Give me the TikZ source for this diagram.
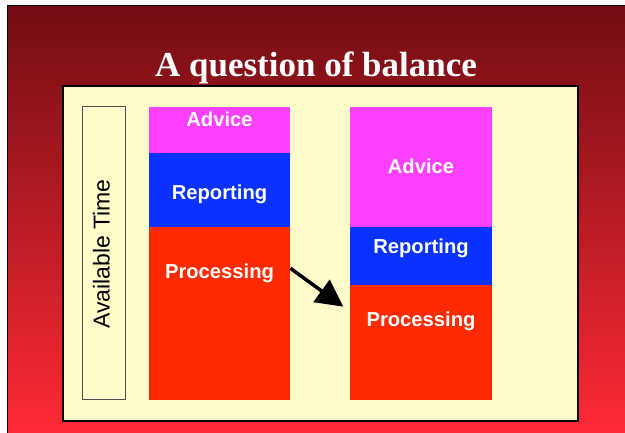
\documentclass[tikz,border=0pt]{standalone}
\usepackage{fontspec}
\setmainfont{Liberation Serif}
\setsansfont{Liberation Sans}
\usetikzlibrary{arrows.meta}

\definecolor{slidetop}{RGB}{114,13,19}
\definecolor{slidebot}{RGB}{255,42,54}
\definecolor{panel}{RGB}{255,252,204}
\definecolor{advice}{RGB}{255,64,255}
\definecolor{report}{RGB}{10,50,255}
\definecolor{process}{RGB}{255,42,0}

\tikzset{
  seg/.style={draw=none, inner sep=0pt, anchor=south west},
  lbl/.style={text=white, font=\sffamily\bfseries\fontsize{20.2}{21}\selectfont, anchor=base}
}

\begin{document}
\begin{tikzpicture}[x=1pt, y=1pt]
    \useasboundingbox (0,0) rectangle (625,433);

    % slide background
    \shade[top color=slidetop, bottom color=slidebot] (7,0) rectangle (625,427);
    \draw[line width=1pt] (7,0) -- (7,427) -- (625,427);

    \node[text=white, font=\bfseries\fontsize{35}{36}\selectfont, anchor=base] (title) at (316,356) {A question of balance};

    % panel
    \node[seg, draw, line width=2pt, fill=panel, minimum width=515pt, minimum height=335pt] (panel) at (62,11.3) {};

    \node[seg, draw=black!70, line width=1pt, fill=panel, minimum width=43.5pt, minimum height=292.5pt] (timebox) at (81.5,33) {};
    \node[rotate=90, font=\sffamily\fontsize{23}{24}\selectfont] (time) at (101.5,179) {Available Time};

    % before
    \node[seg, fill=process, minimum width=141pt, minimum height=173pt] (procA) at (149,33) {};
    \node[seg, fill=report, minimum width=141pt, minimum height=74pt] (repA) at (149,206) {};
    \node[seg, fill=advice, minimum width=141pt, minimum height=46pt] (advA) at (149,280) {};
    \node[lbl] (advAt) at (219.5,306.3) {Advice};
    \node[lbl] (repAt) at (219.5,233) {Reporting};
    \node[lbl] (procAt) at (219.5,154) {Processing};

    % after
    \node[seg, fill=process, minimum width=142pt, minimum height=114.5pt] (procB) at (350,33) {};
    \node[seg, fill=report, minimum width=142pt, minimum height=58.5pt] (repB) at (350,147.5) {};
    \node[seg, fill=advice, minimum width=142pt, minimum height=120pt] (advB) at (350,206) {};
    \node[lbl] (advBt) at (421,259.7) {Advice};
    \node[lbl] (repBt) at (421,179.7) {Reporting};
    \node[lbl] (procBt) at (421,106.3) {Processing};

    \coordinate (tip) at (343.3,126.3);
    \draw[line width=3.5pt, -{Triangle[length=27pt,width=27pt]}] (procA.east |- 0,164.7) -- (tip);
\end{tikzpicture}
\end{document}
